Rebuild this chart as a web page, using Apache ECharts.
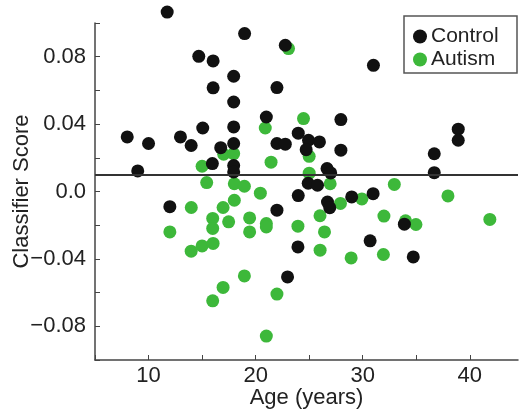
<!DOCTYPE html>
<html>
<head>
<meta charset="utf-8">
<script src="https://cdn.jsdelivr.net/npm/echarts@6/dist/echarts.min.js"></script>
<style>
  html, body { margin: 0; padding: 0; background: #fff; }
  #chart { width: 520px; height: 414px; }
</style>
</head>
<body>
<div id="chart"></div>
<script>
// ages and scores
var controlAge = [11.74, 18.97, 22.77, 14.69, 16.03, 17.95, 16.03, 21.99, 17.95, 21.0,
    15.06, 17.95, 8.01, 10.0, 12.98, 13.98, 16.74, 17.95, 21.99, 22.77,
    23.98, 24.94, 25.96, 24.72, 27.96, 27.96, 31.0, 38.92, 38.92, 36.68,
    36.68, 15.96, 17.95, 17.95, 8.99, 26.67, 27.01, 24.91, 25.78, 23.98,
    28.97, 30.97, 26.71, 26.92, 11.99, 21.99, 33.89, 23.95, 22.98, 30.69, 34.72];
var controlScore = [0.1065, 0.0937, 0.0868, 0.0802, 0.0775, 0.0684, 0.0615, 0.0617, 0.0531, 0.0442,
    0.0377, 0.0383, 0.0324, 0.0285, 0.0324, 0.0273, 0.0260, 0.0285, 0.0285, 0.0281,
    0.0346, 0.0304, 0.0294, 0.0248, 0.0245, 0.0427, 0.0749, 0.0370, 0.0304, 0.0224,
    0.0112, 0.0166, 0.0154, 0.0116, 0.0122, 0.0136, 0.0110, 0.0049, 0.0037, -0.0024,
    -0.0032, -0.0013, -0.0063, -0.0096, -0.0090, -0.0111, -0.0194, -0.0329, -0.0507, -0.0293, -0.0388];

var autismAge = [23.07, 24.47, 20.90, 17.02, 17.95, 15.0, 21.44, 25.0, 25.0, 15.43,
    18.01, 18.95, 20.44, 26.96, 32.95, 29.92, 27.92, 37.96, 18.01, 13.99,
    16.96, 15.99, 15.99, 17.48, 19.44, 21.0, 21.0, 19.44, 23.95, 11.99,
    13.98, 15.0, 16.03, 18.95, 16.96, 15.99, 21.99, 21.0, 26.01, 26.43,
    26.02, 31.98, 34.0, 34.97, 41.87, 28.92, 31.93];
var autismScore = [0.0848, 0.0433, 0.0377, 0.0221, 0.0225, 0.0150, 0.0174, 0.0209, 0.0109, 0.0053,
    0.0046, 0.0031, -0.0010, 0.0046, 0.0042, -0.0044, -0.0071, -0.0026, -0.0052, -0.0095,
    -0.0095, -0.0160, -0.0219, -0.0180, -0.0157, -0.0190, -0.0210, -0.0240, -0.0206, -0.0240,
    -0.0354, -0.0323, -0.0308, -0.0501, -0.0569, -0.0649, -0.0609, -0.0858, -0.0144, -0.0240,
    -0.0348, -0.0146, -0.0174, -0.0196, -0.0166, -0.0394, -0.0374];

var threshold = 0.0085;
var xLabels = [10, 20, 30, 40];
var yLabels = [-0.08, -0.04, 0.0, 0.04, 0.08];

function pairs(xs, ys) {
    var out = [];
    for (var i = 0; i < xs.length; i++) out.push([xs[i], ys[i]]);
    return out;
}

var font = 'Liberation Sans, Arial, sans-serif';
var textColor = '#222';
var axisColor = '#444';

var chart = echarts.init(document.getElementById('chart'));
var option = {
    animation: false,
    textStyle: { fontFamily: font },
    grid: { left: 95, right: 2, top: 23, bottom: 54, containLabel: false, outerBoundsMode: 'none' },
    graphic: [{
        type: 'rect',
        shape: { x: 404, y: 16, width: 113, height: 57 },
        style: { fill: '#fff', stroke: '#555', lineWidth: 1.5 },
        z: 10
    }],
    legend: {
        orient: 'vertical',
        left: 404, top: 16,
        padding: [10, 8, 5, 9],
        itemWidth: 14, itemHeight: 14,
        itemGap: 2,
        icon: 'circle',
        z: 11,
        textStyle: { fontSize: 21, color: textColor, fontFamily: font, padding: [0, 0, 0, -1] },
        data: ['Control', 'Autism']
    },
    xAxis: {
        type: 'value',
        min: 5, max: 44.5, interval: 5,
        name: 'Age (years)',
        nameLocation: 'middle',
        nameGap: 27,
        nameMoveOverlap: false,
        nameTextStyle: { fontSize: 22, color: textColor },
        splitLine: { show: false },
        axisLine: { onZero: false, lineStyle: { color: axisColor, width: 1.5 } },
        axisTick: { inside: true, length: 5, lineStyle: { color: axisColor } },
        axisLabel: {
            fontSize: 22, color: textColor, margin: 5,
            showMaxLabel: false,
            formatter: function (v) { return xLabels.indexOf(v) >= 0 ? String(v) : ''; }
        }
    },
    yAxis: {
        type: 'value',
        min: -0.1, max: 0.1, interval: 0.02,
        name: 'Classifier Score',
        nameLocation: 'middle',
        nameGap: 62,
        nameMoveOverlap: false,
        nameTextStyle: { fontSize: 22, color: textColor },
        splitLine: { show: false },
        axisLine: { show: true, onZero: false, lineStyle: { color: axisColor, width: 1.5 } },
        axisTick: { inside: true, length: 5, lineStyle: { color: axisColor } },
        axisLabel: {
            fontSize: 22, color: textColor, margin: 9,
            formatter: function (v) {
                for (var i = 0; i < yLabels.length; i++) {
                    if (Math.abs(v - yLabels[i]) < 1e-9) {
                        if (yLabels[i] === 0) return '0.0';
                        return (yLabels[i] < 0 ? '\u2212' : '') + Math.abs(yLabels[i]).toFixed(2);
                    }
                }
                return '';
            }
        }
    },
    series: [
        {
            name: 'Autism',
            type: 'scatter',
            symbolSize: 13,
            clip: false,
            itemStyle: { color: '#3db83a', opacity: 1 },
            data: pairs(autismAge, autismScore),
            markLine: {
                silent: true,
                symbol: 'none',
                label: { show: false },
                lineStyle: { color: '#333', width: 2, type: 'solid' },
                data: [{ yAxis: threshold }]
            }
        },
        {
            name: 'Control',
            type: 'scatter',
            symbolSize: 13,
            clip: false,
            itemStyle: { color: '#111', opacity: 1 },
            data: pairs(controlAge, controlScore)
        }
    ]
};
chart.setOption(option);
</script>
</body>
</html>
